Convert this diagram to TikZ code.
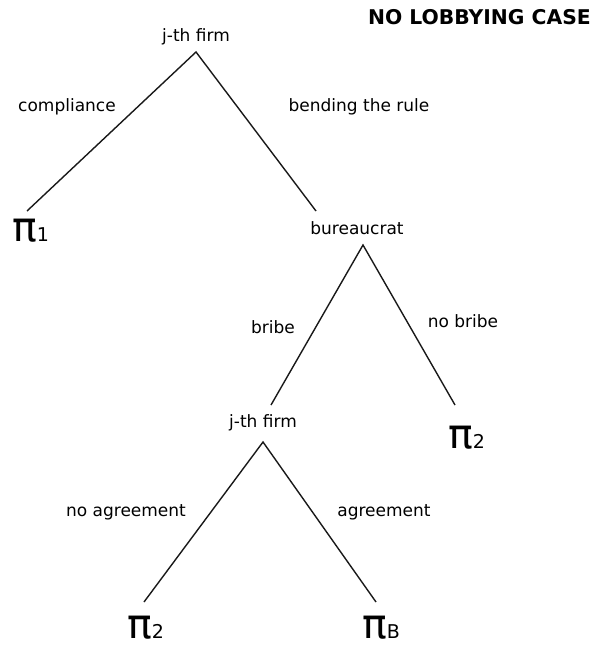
\documentclass[tikz,border=0pt]{standalone}
\usepackage{fontspec}
\setmainfont{DejaVu Sans}
\begin{document}
\begin{tikzpicture}[x=1pt,y=-1pt,
  lbl/.style={inner sep=0pt,font=\fontsize{17}{19}\selectfont},
  payoff/.style={inner sep=0pt,anchor=base west,text depth=0pt},
  edge/.style={line width=1.4pt,black!90}]
\useasboundingbox (0,0) rectangle (591,645);
% title
\node[inner sep=0pt,anchor=east,font=\bfseries\fontsize{20.3}{22}\selectfont] (title) at (591,17) {NO LOBBYING CASE};
% decision nodes
\node[lbl] (f1) at (196,37) {j-th firm};
\node[lbl] (bur) at (357,228) {bureaucrat};
\node[lbl] (f2) at (263,423) {j-th firm};
% branch labels
\node[lbl] (comp) at (67,107) {compliance};
\node[lbl] (bend) at (359,107) {bending the rule};
\node[lbl] (bribe) at (273,327) {bribe};
\node[lbl] (nobribe) at (463,321) {no bribe};
\node[lbl] (noagr) at (126,512) {no agreement};
\node[lbl] (agr) at (384,512) {agreement};
% payoffs
\node[payoff] (p1) at (12,241) {\fontsize{41}{41}\selectfont π\fontsize{19}{19}\selectfont 1};
\node[payoff] (p2a) at (448,448) {\fontsize{41}{41}\selectfont π\fontsize{19}{19}\selectfont 2};
\node[payoff] (p2b) at (127,638) {\fontsize{41}{41}\selectfont π\fontsize{19}{19}\selectfont 2};
\node[payoff] (pB) at (362,638) {\fontsize{41}{41}\selectfont π\fontsize{19}{19}\selectfont B};
% branch points
\coordinate (a1) at (196,52);
\coordinate (e1l) at (27,211);
\coordinate (e1r) at (316,211);
\coordinate (a2) at (363,245);
\coordinate (e2l) at (271,405);
\coordinate (e2r) at (455,405);
\coordinate (a3) at (263,442);
\coordinate (e3l) at (144,602);
\coordinate (e3r) at (376,602);
\draw[edge] (e1l) -- (a1) -- (e1r);
\draw[edge] (e2l) -- (a2) -- (e2r);
\draw[edge] (e3l) -- (a3) -- (e3r);
\end{tikzpicture}
\end{document}
